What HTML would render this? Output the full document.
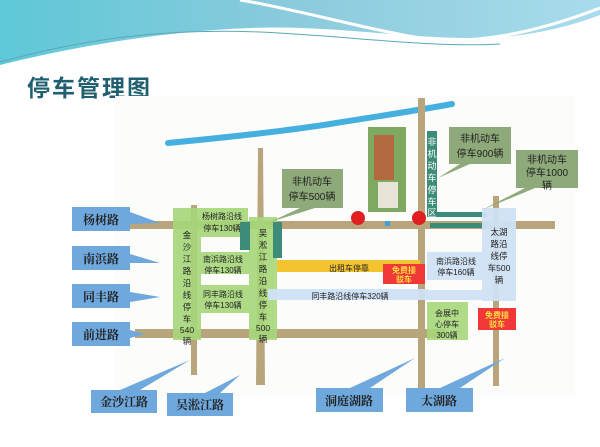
<!DOCTYPE html>
<html><head><meta charset="utf-8"><style>
html,body{margin:0;padding:0;background:#fff;}
svg{display:block;font-family:"Liberation Sans","Noto Sans CJK SC",sans-serif;}
</style></head><body>
<svg width="600" height="447" viewBox="0 0 600 447" xmlns="http://www.w3.org/2000/svg">
<defs>
<linearGradient id="hg" x1="0" y1="0" x2="1" y2="0">
<stop offset="0" stop-color="#5ec8d8"/><stop offset="0.5" stop-color="#8ccbdc"/><stop offset="1" stop-color="#a8dcec"/></linearGradient>
</defs>
<path d="M0 0H600V15C560 30 520 38 470 38C400 38 330 25 250 28C150 32 60 50 0 65Z" fill="url(#hg)"/>
<path d="M240 0C300 10 360 28 420 38C470 45 530 35 600 8" stroke="#fff" stroke-width="3" fill="none"/>
<path d="M0 62C80 40 160 28 260 32C350 36 430 48 500 44" stroke="#5aa8b8" stroke-width="1" fill="none"/>
<text x="27" y="96" font-size="23" fill="#1f5f70" font-weight="bold" letter-spacing="2">停车管理图</text>
<rect x="115" y="96" width="460" height="300" fill="#fcfcfa"/>
<path d="M168 143C220 138 280 132 330 124C380 116 420 110 452 104" stroke="#45b0e0" stroke-width="6" fill="none" stroke-linecap="round"/>
<g fill="#b9a57c">
<rect x="130" y="221" width="425" height="8"/>
<rect x="135" y="329" width="310" height="9"/>
<rect x="191" y="205" width="6" height="170"/>
<path d="M258 148L263 148L265 385L256 385Z"/>
<rect x="418" y="98" width="7" height="290"/>
<rect x="493" y="196" width="6" height="190"/>
</g>
<rect x="368" y="127" width="38" height="85" fill="#7fa860"/>
<rect x="374" y="135" width="20" height="45" fill="#b46a40"/>
<rect x="378" y="182" width="20" height="26" fill="#e8e4d8"/>
<g fill="#a6d77a" opacity="0.9">
<rect x="173" y="208" width="28" height="132"/>
<rect x="173" y="208" width="75" height="29"/>
<rect x="197" y="252" width="53" height="22"/>
<rect x="197" y="285" width="53" height="28"/>
<rect x="249" y="217" width="28" height="123"/>
<rect x="427" y="302" width="41" height="38"/>
</g>
<g fill="#3d8c7a">
<rect x="240" y="222" width="10" height="28"/>
<rect x="273" y="222" width="9" height="36"/>
<rect x="427" y="131" width="10" height="86"/>
<rect x="430" y="212" width="57" height="5"/>
<rect x="430" y="223" width="57" height="5"/>
</g>
<g fill="#cfe2f5" opacity="0.95">
<rect x="268" y="289" width="160" height="11"/>
<rect x="427" y="252" width="58" height="28"/>
<rect x="482" y="208" width="34" height="93"/>
<rect x="425" y="290" width="90" height="10"/>
</g>
<rect x="277" y="260" width="143" height="12" fill="#f4c430"/>
<rect x="383" y="264" width="42" height="20" fill="#f03838"/>
<rect x="478" y="308" width="38" height="22" fill="#f03838"/>
<circle cx="358" cy="218" r="7" fill="#e02020"/><circle cx="419" cy="218" r="7" fill="#e02020"/>
<rect x="385" y="221" width="5" height="5" fill="#3aa0e0"/>
<g fill="#8faa7a">
<rect x="282" y="169" width="61" height="39"/><path d="M300 208L270 222L315 208Z"/>
<rect x="449" y="127" width="62" height="37"/><path d="M460 164L438 178L470 164Z"/>
<rect x="516" y="150" width="62" height="38"/><path d="M525 188L482 210L535 188Z"/>
</g>
<g font-size="10" fill="#222" text-anchor="middle">
<text x="312" y="185">非机动车</text><text x="312" y="200">停车500辆</text>
<text x="480" y="142">非机动车</text><text x="480" y="157">停车900辆</text>
<text x="547" y="163">非机动车</text><text x="547" y="176">停车1000</text><text x="547" y="189">辆</text>
</g>
<g font-size="8" fill="#222" text-anchor="middle">
<text x="222" y="219">杨树路沿线</text><text x="222" y="231">停车130辆</text>
<text x="223" y="262">南浜路沿线</text><text x="223" y="273">停车130辆</text>
<text x="223" y="297">同丰路沿线</text><text x="223" y="308">停车130辆</text>
<text x="349" y="271">出租车停靠</text>
<text x="350" y="299">同丰路沿线停车320辆</text>
<text x="456" y="264">南浜路沿线</text><text x="456" y="275">停车160辆</text>
<text x="447" y="316">会展中</text><text x="447" y="327">心停车</text><text x="447" y="338">300辆</text>
</g>
<g font-size="8.5" fill="#222" text-anchor="middle">
<text x="187" y="238">金</text><text x="187" y="250">沙</text><text x="187" y="262">江</text><text x="187" y="274">路</text><text x="187" y="286">沿</text><text x="187" y="298">线</text><text x="187" y="310">停</text><text x="187" y="322">车</text><text x="187" y="333">540</text><text x="187" y="344">辆</text>
<text x="263" y="236">吴</text><text x="263" y="248">淞</text><text x="263" y="260">江</text><text x="263" y="272">路</text><text x="263" y="284">沿</text><text x="263" y="296">线</text><text x="263" y="308">停</text><text x="263" y="320">车</text><text x="263" y="331">500</text><text x="263" y="342">辆</text>
<text x="499" y="235">太湖</text><text x="499" y="247">路沿</text><text x="499" y="259">线停</text><text x="499" y="271">车500</text><text x="499" y="283">辆</text>
</g>
<g font-size="9" fill="#fff" text-anchor="middle">
<text x="432" y="145">非</text><text x="432" y="157">机</text><text x="432" y="169">动</text><text x="432" y="181">车</text><text x="432" y="193">停</text><text x="432" y="205">车</text><text x="432" y="216">区</text>
</g>
<g font-size="8" fill="#ffe040" text-anchor="middle" font-weight="bold">
<text x="404" y="273">免费接</text><text x="404" y="282">驳车</text>
<text x="497" y="318">免费接</text><text x="497" y="327">驳车</text>
</g>
<g fill="#6fa8dc">
<rect x="72" y="207" width="58" height="24"/><path d="M130 212L160 223L130 224Z"/>
<rect x="72" y="246" width="58" height="24"/><path d="M130 254L160 263L130 263Z"/>
<rect x="72" y="284" width="58" height="24"/><path d="M130 292L160 297L130 302Z"/>
<rect x="72" y="322" width="58" height="24"/><path d="M130 330L145 334L130 338Z"/>
<rect x="91" y="390" width="66" height="23"/><path d="M120 390L190 360L140 390Z"/>
<rect x="167" y="393" width="66" height="23"/><path d="M205 393L240 375L220 393Z"/>
<rect x="316" y="388" width="67" height="24"/><path d="M350 388L415 358L370 388Z"/>
<rect x="406" y="388" width="67" height="24"/><path d="M440 388L505 358L460 388Z"/>
</g>
<g font-size="12" font-weight="bold" fill="#222" text-anchor="middle" font-family="'Liberation Serif','Noto Serif CJK SC',serif">
<text x="101" y="224">杨树路</text><text x="101" y="263">南浜路</text><text x="101" y="301">同丰路</text><text x="101" y="339">前进路</text>
<text x="124" y="406">金沙江路</text><text x="200" y="409">吴淞江路</text><text x="349" y="405">洞庭湖路</text><text x="439" y="405">太湖路</text>
</g>
</svg>
</body></html>
